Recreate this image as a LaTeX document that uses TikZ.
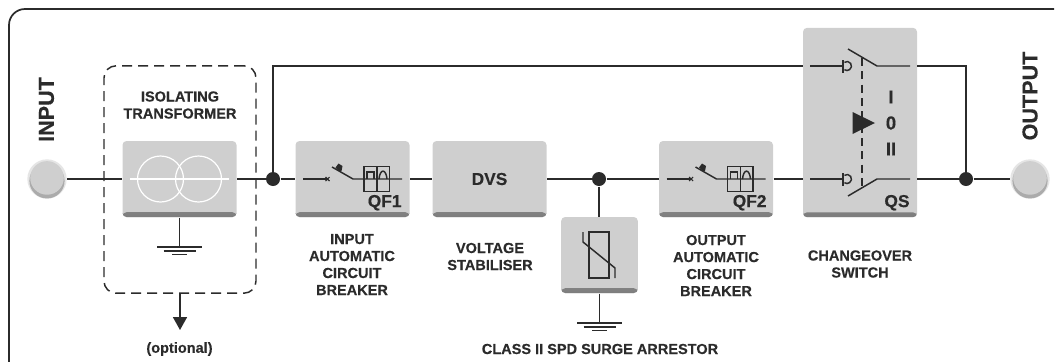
\documentclass[tikz,border=0pt]{standalone}
\usepackage{fontspec}
\setmainfont{Liberation Sans}[BoldFeatures={FakeBold=0.3}]
\usetikzlibrary{arrows.meta,calc}
\definecolor{inkdark}{RGB}{43,43,43}
\definecolor{boxgrey}{RGB}{207,207,207}
\definecolor{boxedge}{RGB}{125,125,125}
\tikzset{every picture/.style={line width=0.75pt}}
\tikzset{
  wire/.style={draw=inkdark,line width=1.3pt},
  thin wire/.style={draw=inkdark,line width=1.1pt},
  unitbox/.style={rectangle,rounded corners=3pt,fill=boxgrey,inner sep=0pt,
    minimum width=85.5pt,minimum height=57pt,
    path picture={\shade[top color=boxgrey,bottom color=boxedge] ([yshift=3.6pt]path picture bounding box.south west) rectangle (path picture bounding box.south east);}},
  portdot/.style={circle,fill=boxgrey!55,inner sep=0pt,minimum size=29.5pt,
    path picture={\fill[boxedge!65] ([yshift=-1.4pt]path picture bounding box.center) circle (13.2pt);
      \fill[boxgrey] ([yshift=0.8pt]path picture bounding box.center) circle (12.6pt);}},
  junction/.style={circle,fill=inkdark,inner sep=0pt,minimum size=10.5pt},
  caption/.style={text=inkdark,align=center,font=\fontsize{10.9}{12.75}\selectfont\bfseries,inner sep=0pt},
  boxtag/.style={text=inkdark,font=\fontsize{13}{15}\selectfont\bfseries,inner sep=0pt},
  sidetag/.style={text=inkdark,rotate=90,font=\fontsize{16.2}{18}\selectfont\bfseries,inner sep=0pt},
}
% earth symbol, #1 is the point at the top bar
\newcommand{\earthbars}[1]{
\draw [thin wire] ($(#1)+(-22.5,0)$) -- ($(#1)+(22.5,0)$);
\draw [thin wire] ($(#1)+(-16,4)$) -- ($(#1)+(16,4)$);
\draw [thin wire] ($(#1)+(-7.5,7.5)$) -- ($(#1)+(7.5,7.5)$);
}
% breaker symbol, #1 is the centre of its box
\newcommand{\breakersign}[1]{
\begin{scope}[shift={(#1)}]
\draw [thin wire] (-49.5,0) -- (-25,0);
\draw [thin wire,line width=0.8pt] (-27,-2) -- (-23,2) (-27,2) -- (-23,-2);
\draw [thin wire] (-20.5,-12) -- (0.5,0) -- (49.5,0);
\fill [inkdark] (-17,-11.5) -- (-14,-15.5) -- (-10,-13) -- (-11,-8) -- (-13.5,-8) -- cycle;
\draw [thin wire] (11.5,-12.5) rectangle (37,12.5);
\draw [thin wire] (24.5,-12.5) -- (24.5,12.5);
\draw [thin wire] (14.5,0) -- (14.5,-7) -- (21.5,-7) -- (21.5,0);
\draw [thin wire] (26.5,0) .. controls (27.5,-10.5) and (33.5,-10.5) .. (34.5,0);
\end{scope}
}

\begin{document}
\begin{tikzpicture}[x=0.75pt,y=0.75pt,yscale=-1,xscale=1]
\useasboundingbox (0,0) rectangle (1056,361);

%Outer frame
\draw [wire,rounded corners=12pt] (9,372) -- (9,9) -- (1054,9);

%Ports and boxes
\node [portdot] (input) at (47,179) {};
\node [portdot] (output) at (1030,179) {};
\node [draw=inkdark,thin wire,dash pattern=on 7.5pt off 4.5pt,rounded corners=9pt,inner sep=0pt,minimum width=114pt,minimum height=170.5pt] (optbox) at (180,179.5) {};
\node [unitbox] (trafo) at (179.5,179) {};
\node [unitbox] (qfone) at (352.5,179) {};
\node [unitbox] (dvs) at (489.5,179) {};
\node [unitbox,minimum width=57.5pt] (spd) at (599.5,255) {};
\node [unitbox] (qftwo) at (716,179) {};
\node [unitbox,minimum height=142pt] (qs) at (860,122.5) {};

%Junctions
\node [junction] (jin) at (273,179) {};
\node [junction] (jspd) at (599,179) {};
\node [junction] (jout) at (966,179) {};

%Free ends
\coordinate (qsupin) at (803,66);
\coordinate (qsupout) at (917,66);
\coordinate (qsdnin) at (803,179);
\coordinate (qsdnout) at (917,179);
\coordinate (trafoearth) at (179.5,247);
\coordinate (spdearth) at (599.5,323);
\coordinate (optend) at (180,330);

%Connectors
\draw [wire] (input) -- (trafo);
\draw [wire] (trafo) -- (jin);
\draw [wire] (jin) -- (qfone);
\draw [wire] (qfone) -- (dvs);
\draw [wire] (dvs) -- (jspd);
\draw [wire] (jspd) -- (qftwo);
\draw [wire] (qftwo) -- (qsdnin);
\draw [wire] (qsdnout) -- (jout);
\draw [wire] (jout) -- (output);
\draw [wire] (jin) |- (qsupin);
\draw [wire] (qsupout) -| (jout);
\draw [wire] (jspd) -- (jspd |- spd.north);
\draw [thin wire] (trafo.south) -- (trafoearth);
\draw [thin wire] (spd.south) -- (spdearth);
\draw [wire,-{Triangle[length=9.75pt,width=10.5pt]}] (optbox.south) -- (optend);

%Earth symbols
\earthbars{trafoearth}
\earthbars{spdearth}

%Transformer sign
\draw [white,line width=0.9pt] (160.5,179) circle (23);
\draw [white,line width=0.9pt] (198.5,179) circle (23);
\draw [white,line width=0.9pt] (130,179) -- (229,179);

%Breaker signs
\breakersign{352.5,179}
\breakersign{716,179}

%Varistor sign
\draw [thin wire] (589,232) rectangle (609,278);
\draw [thin wire] (583,232) -- (583,242) -- (615,268) -- (615,278);

%Changeover sign
\draw [thin wire] (810,66) -- (843,66);
\draw [thin wire] (843,60) -- (843,73);
\draw [thin wire] (844.4,62.3) arc (-125:125:4.5);
\draw [thin wire] (848,49) -- (877,66) -- (910,66);
\draw [thin wire] (810,179) -- (843,179);
\draw [thin wire] (843,173) -- (843,186);
\draw [thin wire] (844.4,175.3) arc (-125:125:4.5);
\draw [thin wire] (848,196) -- (877,179) -- (910,179);
\draw [thin wire,dash pattern=on 6pt off 4pt] (862,58) -- (862,188);
\fill [inkdark] (852.5,112) -- (875,123) -- (852.5,134) -- cycle;

% Text Node
\node [sidetag] (inputlabel) at (46.5,109.5) {INPUT};
\node [sidetag] (outputlabel) at (1030,96) {OUTPUT};
\node [caption] (trafolabel) at (180,105) {ISOLATING\\TRANSFORMER};
\node [caption] (optlabel) at (179.5,349) {(optional)};
\node [caption] (qfonelabel) at (352,264.5) {INPUT\\AUTOMATIC\\CIRCUIT\\BREAKER};
\node [caption] (dvslabel) at (490,256.5) {VOLTAGE\\STABILISER};
\node [caption] (qftwolabel) at (716,265.5) {OUTPUT\\AUTOMATIC\\CIRCUIT\\BREAKER};
\node [caption] (qslabel) at (860,264) {CHANGEOVER\\SWITCH};
\node [caption] (spdlabel) at (600,349) {CLASS II SPD SURGE ARRESTOR};
\node [boxtag] (dvstag) at (489.5,179) {DVS};
\node [boxtag,anchor=south east] (qfonetag) at (402,211) {QF1};
\node [boxtag,anchor=south east] (qftwotag) at (767,211) {QF2};
\node [boxtag,anchor=south east] (qstag) at (910,211) {QS};
\node [boxtag,font=\fontsize{14}{15}\selectfont\bfseries] (qsone) at (891,97) {I};
\node [boxtag,font=\fontsize{14}{15}\selectfont\bfseries] (qszero) at (891,123) {0};
\node [boxtag,font=\fontsize{14}{15}\selectfont\bfseries] (qstwo) at (891,149) {II};

\end{tikzpicture}
\end{document}
